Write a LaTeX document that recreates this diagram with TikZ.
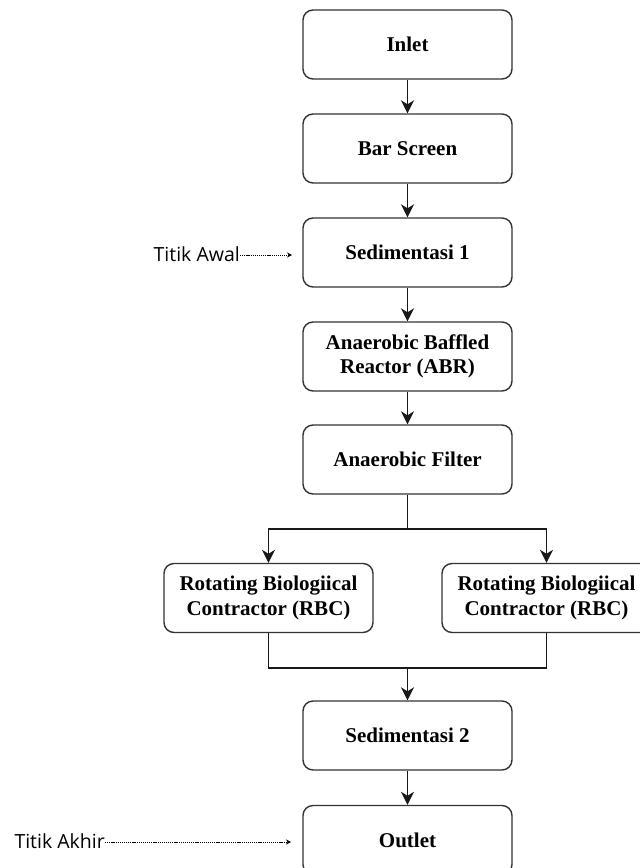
\documentclass[tikz,border=0pt]{standalone}
\usepackage{fontspec}
\setmainfont{Liberation Serif}
\newfontfamily\labelfont{Open Sans}
\usetikzlibrary{arrows.meta}
\begin{document}
\begin{tikzpicture}[x=1pt,y=-1pt,
  procbox/.style={draw=black!80, line width=1.4pt, rounded corners=10pt,
    minimum width=209pt, minimum height=69pt, align=center, inner sep=2pt,
    font=\fontsize{21}{24.5}\selectfont\bfseries},
  flow/.style={line width=1.4pt, draw=black!90, -{Stealth[length=13pt,width=13pt,inset=4pt]}},
  plain/.style={line width=1.4pt, draw=black!90},
  hint/.style={line width=0.8pt, dash pattern=on 1.2pt off 0.9pt, -{Stealth[length=5pt,width=5pt]}},
  hinttext/.style={font=\labelfont\fontsize{19.5}{22}\selectfont, inner sep=0pt, anchor=east}
]
\useasboundingbox (0,0) rectangle (640,868);
\clip (0,0) rectangle (640,868);

\node[procbox] (inlet) at (407.5,44.5) {Inlet};
\node[procbox] (bar) at (407.5,148.5) {Bar Screen};
\node[procbox] (sed1) at (407.5,252.5) {Sedimentasi 1};
\node[procbox] (abr) at (407.5,356.5) {Anaerobic Baffled\\Reactor (ABR)};
\node[procbox] (af) at (407.5,459.5) {Anaerobic Filter};
\node[procbox] (rbc1) at (268.5,598) {Rotating Biologiical\\Contractor (RBC)};
\node[procbox] (rbc2) at (546.5,598) {Rotating Biologiical\\Contractor (RBC)};
\node[procbox] (sed2) at (407.5,735.5) {Sedimentasi 2};
\node[procbox] (outlet) at (407.5,840) {Outlet};

\draw[flow] (inlet) -- (bar);
\draw[flow] (bar) -- (sed1);
\draw[flow] (sed1) -- (abr);
\draw[flow] (abr) -- (af);

\coordinate (split) at (407.5,529);
\draw[plain] (af.south) -- (split);
\draw[flow] (split) -| (rbc1.north);
\draw[flow] (split) -| (rbc2.north);

\coordinate (merge) at (407.5,668);
\draw[plain] (rbc1.south) |- (merge);
\draw[plain] (rbc2.south) |- (merge);
\draw[flow] (merge) -- (sed2.north);
\draw[flow] (sed2) -- (outlet);

\node[hinttext] (awal) at (240,254) {Titik Awal};
\coordinate (awalend) at (292,255);
\draw[hint] (awal.east |- awalend) -- (awalend);

\node[hinttext] (akhir) at (105,841) {Titik Akhir};
\coordinate (akhirend) at (291,842);
\draw[hint] (akhir.east |- akhirend) -- (akhirend);
\end{tikzpicture}
\end{document}
